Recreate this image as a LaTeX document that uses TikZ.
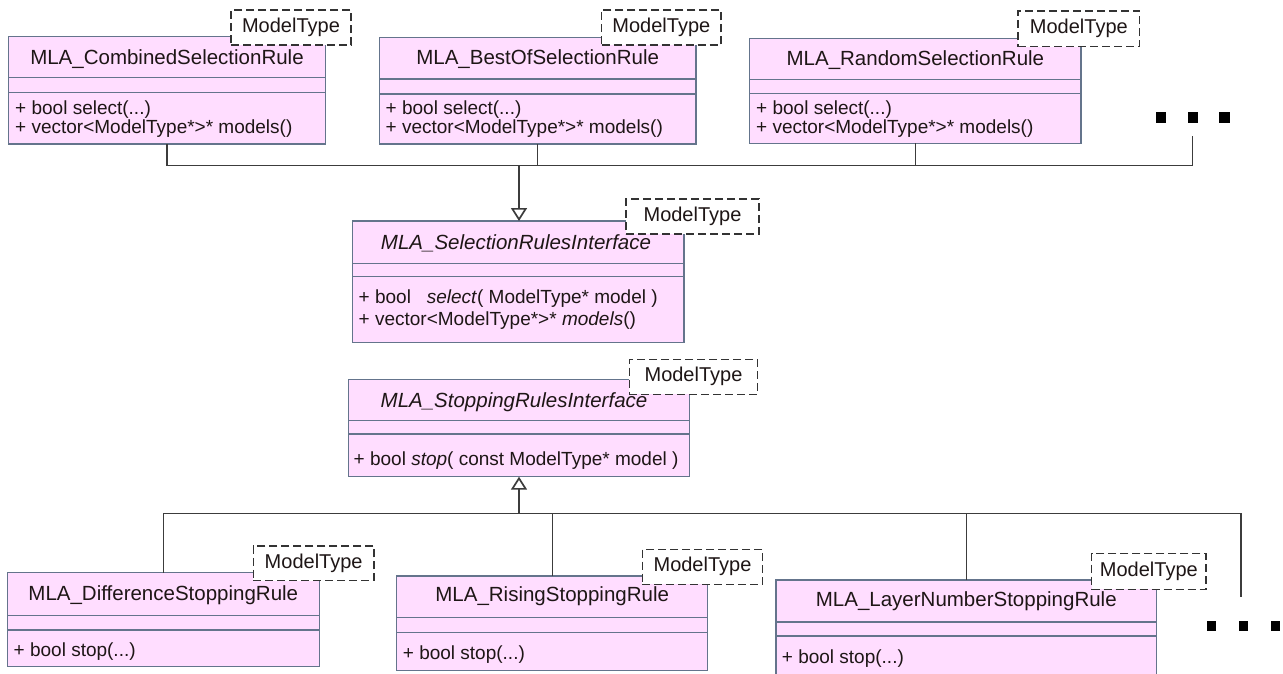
\documentclass[tikz,border=0pt]{standalone}
\usepackage{fontspec}
\setmainfont{Liberation Sans}
\usetikzlibrary{arrows.meta}
\definecolor{pinkfill}{RGB}{255,221,255}
\definecolor{edgecol}{RGB}{100,116,140}
\definecolor{wire}{RGB}{60,60,60}
\definecolor{ink}{RGB}{30,22,22}
\begin{document}
\begin{tikzpicture}[x=1pt,y=-1pt,
  classbox/.style={draw=edgecol, fill=pinkfill, line width=1.2pt, inner sep=0pt, outer sep=0pt, anchor=north west},
  divline/.style={draw=edgecol, line width=1.2pt},
  tparam/.style={draw=black!80, fill=white, line width=1.2pt, dash pattern=on 8pt off 4pt, inner sep=0pt, outer sep=0pt, anchor=north west, text=ink, font=\fontsize{20}{24}\selectfont},
  ttl/.style={anchor=base, inner sep=0pt, text=ink, font=\fontsize{20.5}{24}\selectfont},
  ttlit/.style={ttl, font=\fontsize{20.5}{24}\selectfont\itshape},
  meth/.style={anchor=base west, inner sep=0pt, text=ink, font=\fontsize{19}{19}\selectfont},
  conn/.style={draw=wire, line width=1.3pt},
  inherit/.style={-{Triangle[open, width=16pt, length=13pt, line width=1.7pt]}},
  dotsq/.style={fill=black, inner sep=0pt, minimum size=#1, draw=none}
]
\useasboundingbox (0,0) rectangle (1283,673);

% ---------- top row ----------
\node[classbox, minimum width=317.4pt, minimum height=107.3pt] (c1) at (8.3,36.7) {};
\draw[divline] (8.3,77.3) -- (325.7,77.3) (8.3,92.7) -- (325.7,92.7);
\node[ttl] (c1t) at (167,64) {MLA\_CombinedSelectionRule};
\node[meth] (c1m1) at (15,114) {+ bool select(...)};
\node[meth] (c1m2) at (15,133) {+ vector<ModelType*>* models()};
\node[tparam, minimum width=120pt, minimum height=35pt] (t1) at (231,10) {ModelType};

\node[classbox, minimum width=316.7pt, minimum height=106.7pt] (c2) at (379.3,37.3) {};
\draw[divline] (379.3,79) -- (696,79) (379.3,94) -- (696,94);
\node[ttl] (c2t) at (537.7,64) {MLA\_BestOfSelectionRule};
\node[meth] (c2m1) at (385.5,114) {+ bool select(...)};
\node[meth] (c2m2) at (385.5,133) {+ vector<ModelType*>* models()};
\node[tparam, minimum width=119.3pt, minimum height=35pt] (t2) at (601.7,10) {ModelType};

\node[classbox, minimum width=331.2pt, minimum height=104.8pt] (c3) at (749.8,38.5) {};
\draw[divline] (749.8,79.3) -- (1081,79.3) (749.8,93.7) -- (1081,93.7);
\node[ttl] (c3t) at (915.4,65) {MLA\_RandomSelectionRule};
\node[meth] (c3m1) at (756,114) {+ bool select(...)};
\node[meth] (c3m2) at (756,133) {+ vector<ModelType*>* models()};
\node[tparam, minimum width=121.7pt, minimum height=35.5pt] (t3) at (1018,11) {ModelType};

\node[dotsq=10.5pt] (dt1) at (1161,117.7) {};
\node[dotsq=10.5pt] (dt2) at (1193,117.7) {};
\node[dotsq=10.5pt] (dt3) at (1224.5,117.7) {};
\coordinate (dtop) at (1192.7,136);

% ---------- selection interface ----------
\node[classbox, minimum width=331.3pt, minimum height=121.3pt] (sel) at (352.7,221) {};
\draw[divline] (352.7,263.3) -- (684,263.3) (352.7,276.7) -- (684,276.7);
\node[ttlit] (selt) at (516,249) {MLA\_SelectionRulesInterface};
\node[meth] (selm1) at (358.5,303.3) {+ bool~~~\textit{select}( ModelType* model )};
\node[meth] (selm2) at (358.5,325.7) {+ vector<ModelType*>* \textit{models}()};
\node[tparam, minimum width=133pt, minimum height=35pt] (ts) at (626,199) {ModelType};

% ---------- stopping interface ----------
\node[classbox, minimum width=341pt, minimum height=97.4pt] (stop) at (348.3,379.3) {};
\draw[divline] (348.3,420.7) -- (689.3,420.7) (348.3,434) -- (689.3,434);
\node[ttlit] (stopt) at (514,407.3) {MLA\_StoppingRulesInterface};
\node[meth] (stopm1) at (353.5,465) {+ bool \textit{stop}( const ModelType* model )};
\node[tparam, minimum width=128.4pt, minimum height=35pt] (tst) at (629.3,359.3) {ModelType};

% ---------- bottom row ----------
\node[classbox, minimum width=312pt, minimum height=94pt] (d) at (7.3,572.7) {};
\draw[divline] (7.3,615.7) -- (319.3,615.7) (7.3,630) -- (319.3,630);
\node[ttl] (dt) at (163.3,600) {MLA\_DifferenceStoppingRule};
\node[meth] (dm1) at (13.5,656) {+ bool stop(...)};
\node[tparam, minimum width=120.7pt, minimum height=34.7pt] (td) at (253.3,546) {ModelType};

\node[classbox, minimum width=311pt, minimum height=94.7pt] (r) at (396.7,576) {};
\draw[divline] (396.7,617.7) -- (707.7,617.7) (396.7,632.3) -- (707.7,632.3);
\node[ttl] (rt) at (552.2,601.7) {MLA\_RisingStoppingRule};
\node[meth] (rm1) at (402.7,659) {+ bool stop(...)};
\node[tparam, minimum width=120.4pt, minimum height=35pt] (tr) at (642.3,549.3) {ModelType};

\node[classbox, minimum width=380.7pt, minimum height=100pt] (l) at (776,580) {};
\draw[divline] (776,622) -- (1156.7,622) (776,636) -- (1156.7,636);
\node[ttl] (lt) at (966.3,606.7) {MLA\_LayerNumberStoppingRule};
\node[meth] (lm1) at (781.7,663.3) {+ bool stop(...)};
\node[tparam, minimum width=114.3pt, minimum height=36pt] (tl) at (1091.7,553.3) {ModelType};

\node[dotsq=9.5pt] (db1) at (1211.7,626) {};
\node[dotsq=9.5pt] (db2) at (1243.5,626) {};
\node[dotsq=9.5pt] (db3) at (1275.3,626) {};
\coordinate (dbot) at (1241,596.7);

% ---------- connectors ----------
\coordinate (bt) at (519,165.7);
\coordinate (bb) at (519,513.5);
\draw[conn] (c1.south) -- (c1.south |- bt) -- (dtop |- bt) -- (dtop);
\draw[conn] (c2.south) -- (c2.south |- bt);
\draw[conn] (c3.south) -- (c3.south |- bt);
\draw[conn, inherit] (bt) -- (bt |- sel.north);

\draw[conn, inherit] (bb) -- (bb |- stop.south);
\draw[conn] (d.north) -- (d.north |- bb) -- (dbot |- bb) -- (dbot);
\draw[conn] (r.north) -- (r.north |- bb);
\draw[conn] (l.north) -- (l.north |- bb);
\end{tikzpicture}
\end{document}
